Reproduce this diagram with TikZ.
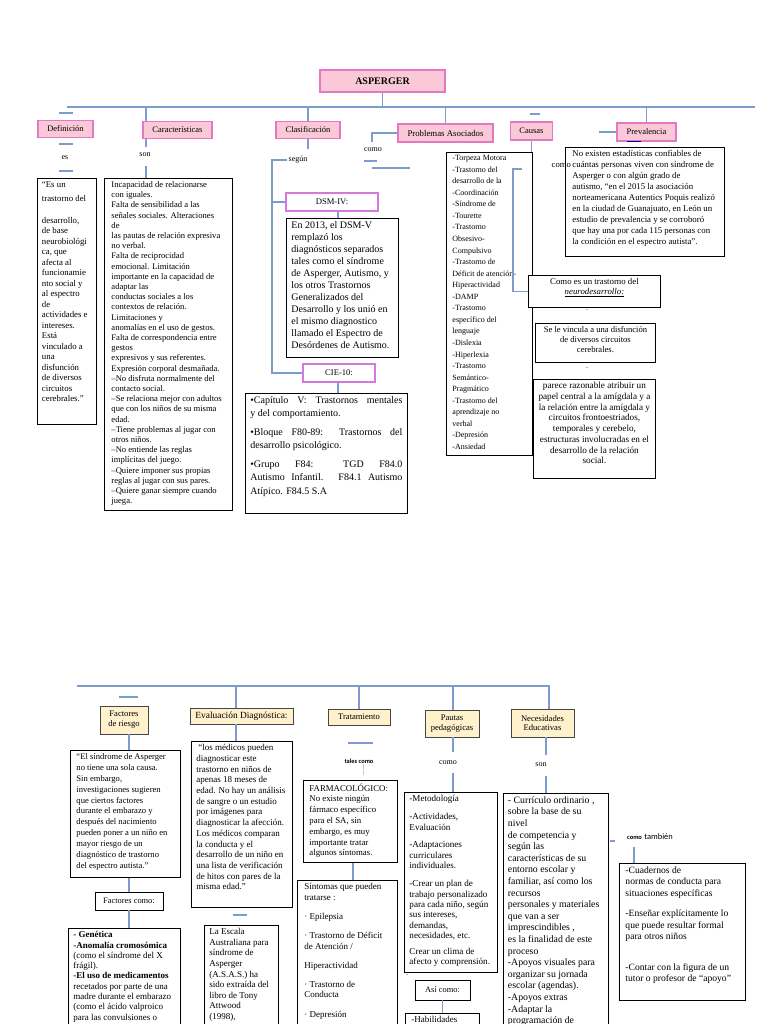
\documentclass[tikz,border=0pt]{standalone}
\usepackage{fontspec}
\setmainfont{Liberation Serif}
\newfontfamily\carl{Carlito}
\definecolor{pinkf}{RGB}{250,200,214}
\definecolor{pinkb}{RGB}{228,120,196}
\definecolor{violb}{RGB}{212,120,222}
\definecolor{yelf}{RGB}{255,241,204}
\definecolor{yelb}{RGB}{70,70,70}
\definecolor{linec}{RGB}{125,155,205}
\definecolor{faintc}{RGB}{205,205,205}
\newcommand\fsz[2]{\fontsize{#1}{#2}\selectfont}
% [opts]{name}{x}{y}{w}{h}{xpad}{content}
\newcommand\mybox[8][]{\node[tb,anchor=north west,inner xsep=#7pt,#1] (#2) at (#3,#4) {\parbox[t][\dimexpr #6pt-6pt\relax][t]{\dimexpr #5pt-#7pt-#7pt\relax}{#8}};}
\tikzset{
 ln/.style={draw=linec, line width=1.1pt},
 pbox/.style={draw=pinkb, fill=pinkf, line width=1.2pt, inner sep=1pt, font=\fsz{8.5}{9.5}, align=center},
 vbox/.style={draw=violb, fill=white, line width=1.1pt, inner sep=1pt, font=\fsz{8.6}{9.5}},
 ybox/.style={draw=yelb, fill=yelf, line width=0.9pt, inner sep=1pt, font=\fsz{8.6}{9.8}, align=center},
 tb/.style={draw=black, line width=0.9pt, fill=white, inner ysep=3pt, font=\fsz{8.6}{10.2}},
 tbn/.style={draw=black, line width=0.9pt, fill=white, inner sep=1pt, font=\fsz{8.4}{9.5}},
 lab/.style={inner sep=1pt, font=\fsz{8}{9}},
}
\begin{document}
\begin{tikzpicture}[x=1pt,y=-1pt]
\useasboundingbox (0,0) rectangle (768,1024);
\fill[white] (0,0) rectangle (768,1024);

% ---------------- TOP ----------------
\node[pbox, minimum width=125, minimum height=22, font=\fsz{10}{12}\bfseries] (asp) at (382.5,81) {ASPERGER};
\coordinate (tl) at (67,107);
\coordinate (tr) at (755,107);
\draw[ln] (tl) -- (tr);
\draw[ln] (asp.south) -- (asp.south |- tl);

% Definicion
\node[pbox, minimum width=55, minimum height=17] (def) at (65.5,129) {Definición};
\coordinate (d1a) at (59,113); \coordinate (d1b) at (73,113);
\coordinate (d2a) at (59,144); \coordinate (d2b) at (73,144);
\coordinate (d3a) at (59,171); \coordinate (d3b) at (73,171);
\draw[ln] (d1a) -- (d1b);
\draw[ln] (d2a) -- (d2b);
\draw[ln] (d3a) -- (d3b);
\node[lab] (es) at (65,158) {es};
\mybox[font=\fsz{8.8}{10.5}]{deft}{37}{178}{59}{246}{4.5}{“Es un\\[4pt] trastorno del\\[11pt] desarrollo,\\ de base\\ neurobiológi\\ ca, que\\ afecta al\\ funcionamie\\ nto social y\\ al espectro\\ de\\ actividades e\\ intereses.\\ Está\\ vinculado a\\ una\\ disfunción\\ de diversos\\ circuitos\\ cerebrales.”}

% Caracteristicas
\node[pbox, minimum width=69, minimum height=17] (car) at (177.5,130) {Características};
\coordinate (cx) at (146,107);
\draw[ln] (cx) -- (cx |- car.north);
\draw[ln] (car.south -| cx) -- ++(0,8);
\node[lab] (son1) at (145,155) {son};
\mybox{cart}{104}{178}{128}{332}{7}{Incapacidad de relacionarse\\ con iguales.\\ Falta de sensibilidad a las\\ señales sociales. Alteraciones\\ de\\ las pautas de relación expresiva\\ no verbal.\\ Falta de reciprocidad\\ emocional. Limitación\\ importante en la capacidad de\\ adaptar las\\ conductas sociales a los\\ contextos de relación.\\ Limitaciones y\\ anomalías en el uso de gestos.\\ Falta de correspondencia entre\\ gestos\\ expresivos y sus referentes.\\ Expresión corporal desmañada.\\ –No disfruta normalmente del\\ contacto social.\\ –Se relaciona mejor con adultos\\ que con los niños de su misma\\ edad.\\ –Tiene problemas al jugar con\\ otros niños.\\ –No entiende las reglas\\ implícitas del juego.\\ –Quiere imponer sus propias\\ reglas al jugar con sus pares.\\ –Quiere ganar siempre cuando\\ juega.}
\draw[ln] (cart.north -| cx) -- ++(0,-12);

% Clasificacion
\node[pbox, minimum width=64, minimum height=17] (cla) at (308,130) {Clasificación};
\draw[ln] (cla.north) -- (cla.north |- tl);
\draw[ln] (cla.south) -- ++(0,10);
\node[lab] (seg) at (298,160) {según};
\node[vbox, minimum width=92, minimum height=18] (dsm) at (332,202) {DSM-IV:};
\node[vbox, minimum width=72, minimum height=18] (cie) at (339,373) {CIE-10:};
\coordinate (bk) at (272,161);
\draw[ln] (seg.west) -- (seg.west -| bk) |- (cie.west);
\draw[ln] (dsm.west -| bk) -- (dsm.west);
\coordinate (dx) at (338,0);
\mybox[font=\fsz{10}{12}]{dsmt}{286}{218}{112}{139}{5}{En 2013, el DSM-V\\ remplazó los\\ diagnósticos separados\\ tales como el síndrome\\ de Asperger, Autismo, y\\ los otros Trastornos\\ Generalizados del\\ Desarrollo y los unió en\\ el mismo diagnostico\\ llamado el Espectro de\\ Desórdenes de Autismo.}
\draw[ln] (dsm.south -| dx) -- (dsmt.north -| dx);
\mybox[font=\fsz{10}{13.5}]{ciet}{245}{393}{162}{120}{5}{•Capítulo V: Trastornos mentales\linebreak y del comportamiento.\par\vspace{5pt}•Bloque F80-89: Trastornos del\linebreak desarrollo psicológico.\par\vspace{5pt}•Grupo F84: TGD F84.0\linebreak Autismo Infantil. F84.1 Autismo\linebreak Atípico. F84.5 S.A}
\draw[ln] (cie.south -| dx) -- (ciet.north -| dx);

% Problemas asociados
\node[pbox, minimum width=95, minimum height=18, font=\fsz{8.8}{10}] (pro) at (445.5,133) {Problemas Asociados};
\draw[ln] (pro.north) -- (pro.north |- tl);
\coordinate (cb) at (372,0);
\draw[ln] (pro.west) -- (pro.west -| cb) -- ++(0,9);
\node[lab] (como1) at (373,150) {como};
\coordinate (c1a) at (364,161); \coordinate (c1b) at (377,161);
\coordinate (c2a) at (372,168); \coordinate (c2b) at (410,168);
\draw[ln] (c1a) -- (c1b);
\draw[ln] (c2a) -- (c2b);
\mybox[font=\fsz{8}{11.55}]{prot}{446}{152}{86}{303}{6}{-Torpeza Motora\\ -Trastorno del\\ desarrollo de la\\ -Coordinación\\ -Síndrome de\\ -Tourette\\ -Trastorno\\ Obsesivo-\\ Compulsivo\\ -Trastorno de\\ Déficit de atención-\\ Hiperactividad\\ -DAMP\\ -Trastorno\\ específico del\\ lenguaje\\ -Dislexia\\ -Hiperlexia\\ -Trastorno\\ Semántico-\\ Pragmático\\ -Trastorno del\\ aprendizaje no\\ verbal\\ -Depresión\\ -Ansiedad}

% Causas
\node[pbox, minimum width=42, minimum height=18] (cau) at (531.5,131) {Causas};
\coordinate (ca1) at (530,114); \coordinate (ca2) at (540,114);
\draw[ln] (ca1) -- (ca2);
\draw[ln] (cau.south) -- (cau.south |- prot.north);
\mybox[font=\fsz{8.8}{10}]{neu}{528}{275}{132}{32}{4}{\centering Como es un trastorno del\\ \underline{\textit{neurodesarrollo:}}}
\coordinate (bra) at (522,169); \coordinate (brb) at (513,169);
\draw[ln] (bra) -- (brb) |- (neu.west);
\node[lab] (dot1) at (587,310) {.};
\mybox[font=\fsz{8.6}{10}]{vin}{535}{323}{120}{39}{3}{\centering Se le vincula a una disfunción\\ de diversos circuitos\\ cerebrales.}
\node[lab] (dot2) at (587,368) {.};
\mybox[font=\fsz{9.2}{10.7}]{par}{533}{379}{122}{99}{3}{\centering parece razonable atribuir un\\ papel central a la amígdala y a\\ la relación entre la amígdala y\\ circuitos frontoestriados,\\ temporales y cerebelo,\\ estructuras involucradas en el\\ desarrollo de la relación\\ social.}

% Prevalencia
\node[pbox, minimum width=59, minimum height=18] (pre) at (646.5,132) {Prevalencia};
\draw[ln] (pre.north) -- (pre.north |- tl);
\draw[ln] (pre.west) -- ++(-17,0);
\coordinate (pu1) at (627,141); \coordinate (pu2) at (641,141);
\draw[draw=blue!60!black, line width=0.8pt] (pu1) -- (pu2);
\mybox[font=\fsz{8.8}{11}]{pret}{565}{147}{159}{109}{7}{No existen estadísticas confiables de\\ cuántas personas viven con síndrome de\\ Asperger o con algún grado de\\ autismo, “en el 2015 la asociación\\ norteamericana Autentics Poquis realizó\\ en la ciudad de Guanajuato, en León un\\ estudio de prevalencia y se corroboró\\ que hay una por cada 115 personas con\\ la condición en el espectro autista”.}
\node[lab, anchor=east, font=\fsz{8.6}{9}] (como2) at (572,166) {como};

% ---------------- BOTTOM ----------------
\coordinate (bl) at (77,686);
\coordinate (br) at (549,686);
\node[ybox, minimum width=63, minimum height=28] (nec) at (542.5,723) {Necesidades\\Educativas};
\draw[ln] (bl) -- (br) -- (nec.north -| br);

% Factores de riesgo
\coordinate (fd1) at (119,697); \coordinate (fd2) at (138,697);
\draw[ln] (fd1) -- (fd2);
\node[ybox, minimum width=48, minimum height=28] (fac) at (124,720) {Factores\\de riesgo};
\coordinate (fx) at (129,0);
\mybox[font=\fsz{8.6}{10.9}]{fact}{70}{750}{110}{127}{6}{“El síndrome de Asperger\\ no tiene una sola causa.\\ Sin embargo,\\ investigaciones sugieren\\ que ciertos factores\\ durante el embarazo y\\ después del nacimiento\\ pueden poner a un niño en\\ mayor riesgo de un\\ diagnóstico de trastorno\\ del espectro autista.”}
\draw[ln] (fac.south -| fx) -- (fact.north -| fx);
\node[tbn, minimum width=68, minimum height=18] (facc) at (129,901) {Factores como:};
\draw[ln] (fact.south -| fx) -- (facc.north -| fx);
\mybox[font=\fsz{9}{10.3}]{gen}{68}{928}{112}{130}{5}{{\bfseries - Genética}\\ {\bfseries -Anomalía cromosómica}\\ (como el síndrome del X\\ frágil).\\ {\bfseries -El uso de medicamentos}\\ recetados por parte de una\\ madre durante el embarazo\\ (como el ácido valproico\\ para las convulsiones o}
\draw[ln] (facc.south -| fx) -- (gen.north -| fx);

% Evaluacion diagnostica
\node[ybox, minimum width=103, minimum height=16, font=\fsz{9.4}{10}] (eva) at (241.5,716) {Evaluación Diagnóstica:};
\coordinate (ex) at (236,0);
\draw[ln] (bl -| ex) -- (eva.north -| ex);
\mybox[font=\fsz{9}{10.7}]{evat}{191}{741}{101}{166}{5}{\hspace*{2pt}“los médicos pueden\\ diagnosticar este\\ trastorno en niños de\\ apenas 18 meses de\\ edad. No hay un análisis\\ de sangre o un estudio\\ por imágenes para\\ diagnosticar la afección.\\ Los médicos comparan\\ la conducta y el\\ desarrollo de un niño en\\ una lista de verificación\\ de hitos con pares de la\\ misma edad.”}
\draw[ln] (eva.south -| ex) -- (evat.north -| ex);
\coordinate (ed1) at (233,915); \coordinate (ed2) at (247,915);
\draw[ln] (ed1) -- (ed2);
\mybox[font=\fsz{9}{10.6}]{esc}{204}{925}{74}{130}{5}{La Escala\\ Australiana para\\ síndrome de\\ Asperger\\ (A.S.A.S.) ha\\ sido extraída del\\ libro de Tony\\ Attwood\\ (1998),}

% Tratamiento
\node[ybox, minimum width=62, minimum height=16] (tra) at (359,717) {Tratamiento};
\draw[ln] (tra.north) -- (tra.north |- bl);
\coordinate (td1) at (348,743); \coordinate (td2) at (373,743);
\draw[ln] (td1) -- (td2);
\node[inner sep=1pt, font=\carl\bfseries\fsz{6.4}{7}] (tc) at (359,761) {tales como};
\coordinate (tx) at (363,0);
\draw[draw=faintc, line width=1pt] (tc.south -| tx) -- ++(0,11);
\mybox[font=\fsz{8.8}{10.8}]{far}{303}{780}{94}{82}{6}{FARMACOLÓGICO:\\ No existe ningún\\ fármaco específico\\ para el SA, sin\\ embargo, es muy\\ importante tratar\\ algunos síntomas.}
\coordinate (sx) at (353,0);
\mybox[font=\fsz{9}{10.6}]{sin}{297}{880}{100}{160}{7}{Síntomas que pueden\\ tratarse :\\[8.5pt] · Epilepsia\\[8.5pt] · Trastorno de Déficit\\ de Atención /\\[8.5pt] Hiperactividad\\[8.5pt] · Trastorno de\\ Conducta\\[8.5pt] · Depresión}
\draw[ln] (far.south -| sx) -- (sin.north -| sx);

% Pautas pedagogicas
\node[ybox, minimum width=54, minimum height=27] (pau) at (452,723.5) {Pautas\\pedagógicas};
\coordinate (px) at (453,0);
\draw[ln] (bl -| px) -- (pau.north -| px);
\draw[ln] (pau.south -| px) -- ++(0,15);
\node[lab] (como3) at (448,763) {como};
\mybox[font=\fsz{9.1}{10.4}]{paut}{404}{792}{93}{180}{5}{-Metodología\\[7.5pt] -Actividades,\\ Evaluación\\[7.5pt] -Adaptaciones\\ curriculares\\ individuales.\\[7.5pt] -Crear un plan de\\ trabajo personalizado\\ para cada niño, según\\ sus intereses,\\ demandas,\\ necesidades, etc.\\[5pt] Crear un clima de\\ afecto y comprensión.}
\draw[ln] (paut.north -| px) -- ++(0,-19);
\node[lab] (dot3) at (407,975) {.};
\node[tbn, minimum width=55, minimum height=20] (asi) at (442.5,990) {Así como:};
\mybox[font=\fsz{9}{10}]{hab}{405}{1013}{74}{60}{6}{-Habilidades}
\draw[ln] (asi.south) -- (hab.north -| asi.south);

% Necesidades educativas
\coordinate (nx) at (546,0);
\draw[ln] (nec.south -| nx) -- ++(0,18);
\node[lab] (son2) at (541,765) {son};
\mybox[font=\fsz{9.8}{11.6}]{nect}{503}{793}{105}{250}{4.5}{- Currículo ordinario ,\\ sobre la base de su\\ nivel\\ de competencia y\\ según las\\ características de su\\ entorno escolar y\\ familiar, así como los\\ recursos\\ personales y materiales\\ que van a ser\\ imprescindibles ,\\ es la finalidad de este\\ proceso\\ -Apoyos visuales para\\ organizar su jornada\\ escolar (agendas).\\ -Apoyos extras\\ -Adaptar la\\ programación de}
\draw[ln] (nect.north -| nx) -- ++(0,-17);
\coordinate (nd1) at (610,841); \coordinate (nd2) at (615,841);
\draw[ln] (nd1) -- (nd2);
\node[inner sep=1pt] (ct) at (650,837) {{\carl\bfseries\fsz{6.4}{7}como} {\carl\fsz{8.4}{9}también}};
\coordinate (rx) at (634,0);
\mybox[font=\fsz{9.6}{11.5}]{rt}{619}{863}{126}{137}{6}{-Cuadernos de\\ normas de conducta para\\ situaciones específicas\\[9pt] -Enseñar explícitamente lo\\ que puede resultar formal\\ para otros niños\\[19pt] -Contar con la figura de un\\ tutor o profesor de “apoyo”}
\draw[ln] (rt.north -| rx) -- ++(0,-16);
\end{tikzpicture}
\end{document}
